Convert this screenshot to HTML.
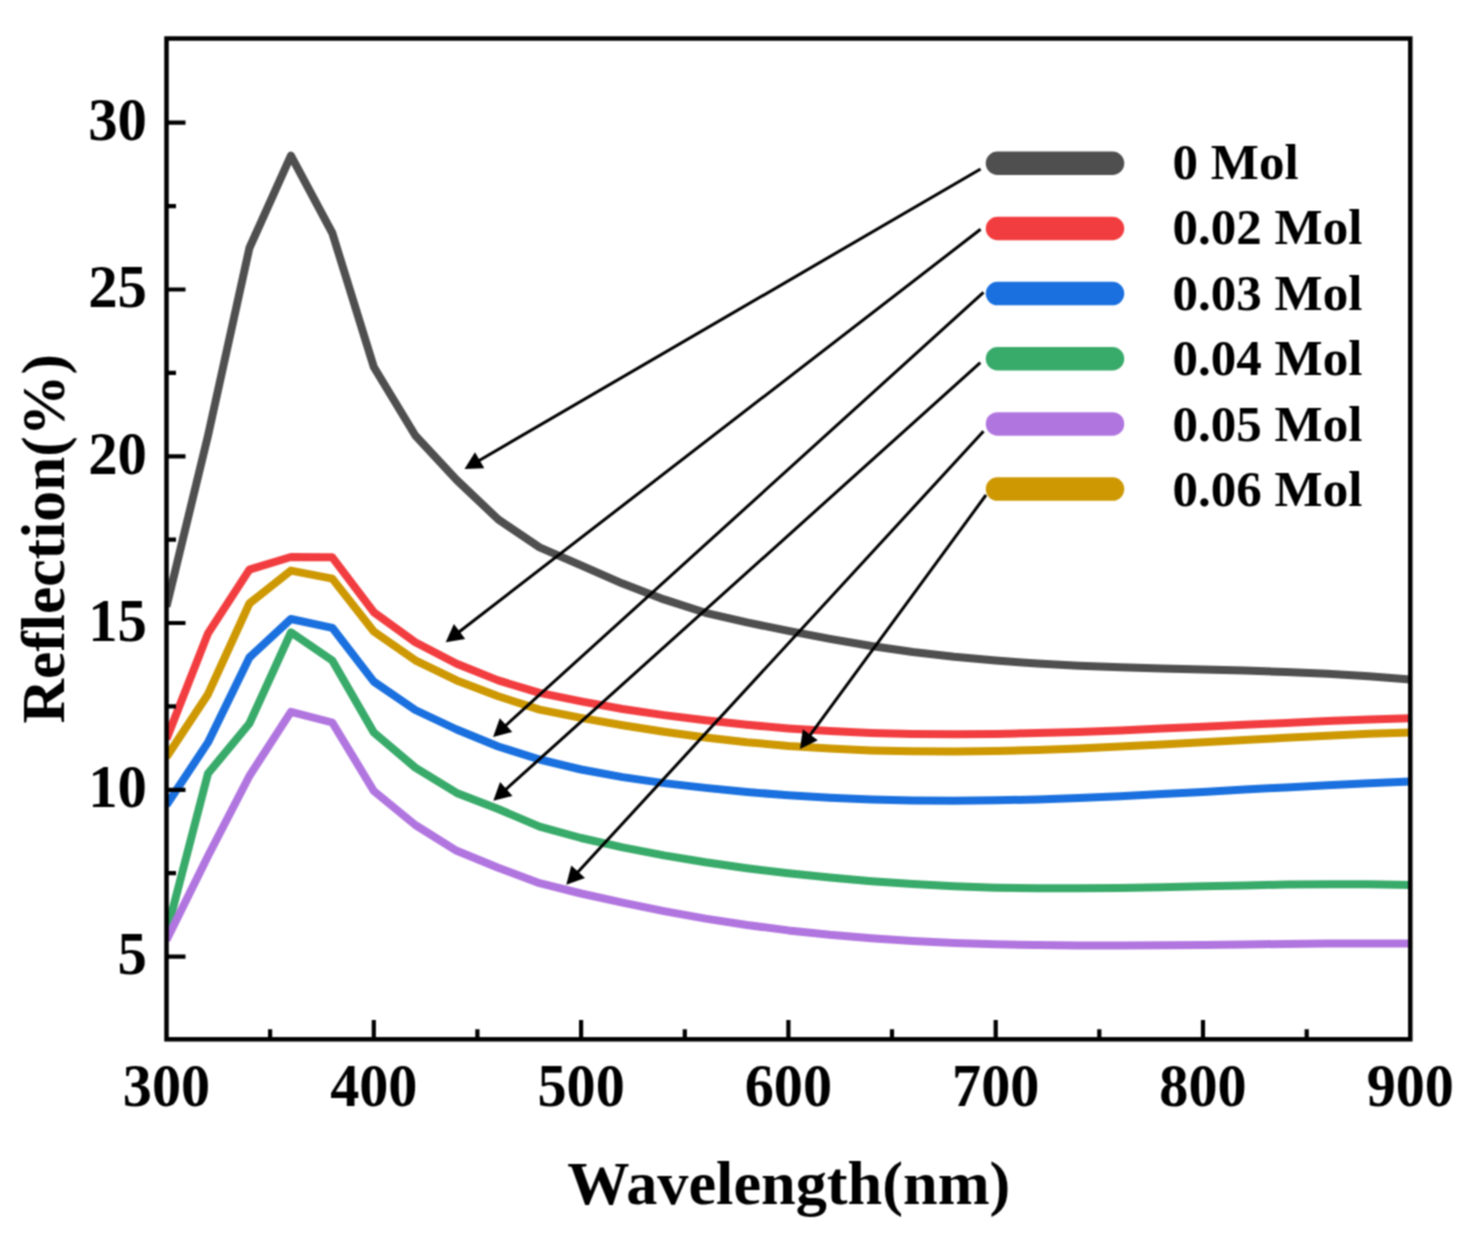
<!DOCTYPE html>
<html><head><meta charset="utf-8"><title>Reflection vs Wavelength</title>
<style>html,body{margin:0;padding:0;background:#fff;overflow:hidden;} svg{display:block;} text{font-family:"Liberation Serif", serif;}</style>
</head><body>
<svg width="1470" height="1240" viewBox="0 0 1470 1240">
<filter id="bl" x="0" y="0" width="1" height="1" color-interpolation-filters="sRGB"><feConvolveMatrix order="3" kernelMatrix="1 2 1 2 4 2 1 2 1" divisor="16" edgeMode="duplicate"/></filter>
<g filter="url(#bl)"><rect x="0" y="0" width="1470" height="1240" fill="#fff"/>
<defs><clipPath id="pc"><rect x="166.5" y="38.5" width="1243.8" height="1000.8"/></clipPath></defs>
<g clip-path="url(#pc)" fill="none" stroke-width="8" stroke-linejoin="round" stroke-linecap="butt">
<path d="M166.5,606.6 L208.0,435.6 L249.4,248.0 L290.9,155.6 L332.3,233.0 L373.8,367.0 L415.3,435.5 L456.7,480.0 L498.2,519.4 L539.6,547.4 L581.1,565.3 L622.6,583.6 L664.0,599.4 L705.5,612.8 L746.9,622.4 L788.4,630.9 L829.9,638.9 L871.3,646.0 L912.8,652.0 L954.2,656.8 L995.7,660.6 L1037.2,663.5 L1078.6,665.7 L1120.1,667.3 L1161.5,668.5 L1203.0,669.6 L1244.5,670.6 L1285.9,672.0 L1327.4,673.7 L1368.8,676.2 L1410.3,679.5" stroke="#4f4f4f"/>
<path d="M166.5,739.0 L208.0,633.4 L249.4,569.6 L290.9,557.0 L332.3,557.3 L373.8,612.2 L415.3,642.2 L456.7,663.7 L498.2,680.4 L539.6,692.9 L581.1,701.4 L622.6,709.0 L664.0,715.1 L705.5,720.3 L746.9,724.8 L788.4,728.4 L829.9,731.1 L871.3,732.9 L912.8,733.9 L954.2,734.2 L995.7,733.9 L1037.2,733.1 L1078.6,731.9 L1120.1,730.4 L1161.5,728.6 L1203.0,726.7 L1244.5,724.8 L1285.9,722.9 L1327.4,721.1 L1368.8,719.6 L1410.3,718.3" stroke="#f23d40"/>
<path d="M166.5,757.0 L208.0,694.2 L249.4,603.5 L290.9,570.6 L332.3,578.6 L373.8,631.5 L415.3,660.3 L456.7,680.4 L498.2,696.3 L539.6,709.6 L581.1,717.8 L622.6,725.2 L664.0,731.8 L705.5,737.5 L746.9,742.2 L788.4,745.9 L829.9,748.6 L871.3,750.4 L912.8,751.3 L954.2,751.5 L995.7,751.0 L1037.2,749.9 L1078.6,748.4 L1120.1,746.6 L1161.5,744.5 L1203.0,742.2 L1244.5,740.0 L1285.9,737.7 L1327.4,735.7 L1368.8,733.8 L1410.3,732.4" stroke="#cd9802"/>
<path d="M166.5,805.0 L208.0,742.4 L249.4,657.5 L290.9,619.0 L332.3,627.8 L373.8,681.6 L415.3,710.0 L456.7,729.5 L498.2,746.5 L539.6,759.5 L581.1,769.5 L622.6,777.1 L664.0,783.1 L705.5,787.9 L746.9,792.0 L788.4,795.3 L829.9,797.8 L871.3,799.6 L912.8,800.5 L954.2,800.8 L995.7,800.3 L1037.2,799.4 L1078.6,797.9 L1120.1,796.2 L1161.5,794.1 L1203.0,791.9 L1244.5,789.6 L1285.9,787.4 L1327.4,785.2 L1368.8,783.3 L1410.3,781.6" stroke="#1a70de"/>
<path d="M166.5,933.0 L208.0,773.5 L249.4,723.5 L290.9,632.3 L332.3,660.5 L373.8,732.5 L415.3,767.6 L456.7,792.9 L498.2,809.0 L539.6,826.6 L581.1,838.0 L622.6,847.4 L664.0,855.4 L705.5,862.3 L746.9,868.2 L788.4,873.3 L829.9,877.6 L871.3,881.2 L912.8,884.1 L954.2,886.3 L995.7,887.7 L1037.2,888.3 L1078.6,888.3 L1120.1,887.9 L1161.5,887.2 L1203.0,886.3 L1244.5,885.4 L1285.9,884.6 L1327.4,884.2 L1368.8,884.3 L1410.3,885.1" stroke="#38aa69"/>
<path d="M166.5,940.0 L208.0,856.0 L249.4,776.0 L290.9,711.8 L332.3,722.5 L373.8,791.0 L415.3,825.0 L456.7,850.8 L498.2,867.8 L539.6,883.2 L581.1,893.5 L622.6,902.7 L664.0,911.1 L705.5,918.6 L746.9,925.0 L788.4,930.4 L829.9,934.8 L871.3,938.2 L912.8,940.9 L954.2,942.9 L995.7,944.3 L1037.2,945.1 L1078.6,945.5 L1120.1,945.5 L1161.5,945.3 L1203.0,944.9 L1244.5,944.4 L1285.9,944.0 L1327.4,943.6 L1368.8,943.4 L1410.3,943.6" stroke="#b175df"/>
</g>
<rect x="166.5" y="38.5" width="1243.8" height="1000.8" fill="none" stroke="#000" stroke-width="4.5"/>
<path d="M166.5,956.6H185.5M166.5,789.8H185.5M166.5,623.0H185.5M166.5,456.3H185.5M166.5,289.5H185.5M166.5,122.7H185.5M166.5,873.2H176.0M166.5,706.4H176.0M166.5,539.6H176.0M166.5,372.9H176.0M166.5,206.1H176.0M373.8,1039.3V1019.9M581.1,1039.3V1019.9M788.4,1039.3V1019.9M995.7,1039.3V1019.9M1203.0,1039.3V1019.9M270.1,1039.3V1029.3M477.4,1039.3V1029.3M684.8,1039.3V1029.3M892.0,1039.3V1029.3M1099.3,1039.3V1029.3M1306.7,1039.3V1029.3" stroke="#000" stroke-width="4.2" fill="none"/>
<g font-family="Liberation Serif" font-weight="bold" font-size="60" fill="#000">
<text transform="translate(147,974.2) scale(0.98,1.03)" text-anchor="end">5</text>
<text transform="translate(147,807.4) scale(0.98,1.03)" text-anchor="end">10</text>
<text transform="translate(147,640.6) scale(0.98,1.03)" text-anchor="end">15</text>
<text transform="translate(147,473.9) scale(0.98,1.03)" text-anchor="end">20</text>
<text transform="translate(147,307.1) scale(0.98,1.03)" text-anchor="end">25</text>
<text transform="translate(147,140.3) scale(0.98,1.03)" text-anchor="end">30</text>
<text transform="translate(166.5,1106) scale(0.97,1.03)" text-anchor="middle">300</text>
<text transform="translate(373.8,1106) scale(0.97,1.03)" text-anchor="middle">400</text>
<text transform="translate(581.1,1106) scale(0.97,1.03)" text-anchor="middle">500</text>
<text transform="translate(788.4,1106) scale(0.97,1.03)" text-anchor="middle">600</text>
<text transform="translate(995.7,1106) scale(0.97,1.03)" text-anchor="middle">700</text>
<text transform="translate(1203.0,1106) scale(0.97,1.03)" text-anchor="middle">800</text>
<text transform="translate(1410.3,1106) scale(0.97,1.03)" text-anchor="middle">900</text>
</g>
<text x="788.8" y="1203.5" text-anchor="middle" font-family="Liberation Serif" font-weight="bold" font-size="62.3">Wavelength(nm)</text>
<text transform="translate(64.2,538.8) rotate(-90)" text-anchor="middle" font-family="Liberation Serif" font-weight="bold" font-size="61.6">Reflection(%)</text>
<line x1="997.5" y1="163.3" x2="1112.5" y2="163.3" stroke="#4f4f4f" stroke-width="23.5" stroke-linecap="round"/>
<text x="1172.5" y="179.1" font-family="Liberation Serif" font-weight="bold" font-size="51">0 Mol</text>
<line x1="997.5" y1="228.5" x2="1112.5" y2="228.5" stroke="#f23d40" stroke-width="23.5" stroke-linecap="round"/>
<text x="1172.5" y="244.4" font-family="Liberation Serif" font-weight="bold" font-size="51">0.02 Mol</text>
<line x1="997.5" y1="293.6" x2="1112.5" y2="293.6" stroke="#1a70de" stroke-width="23.5" stroke-linecap="round"/>
<text x="1172.5" y="309.8" font-family="Liberation Serif" font-weight="bold" font-size="51">0.03 Mol</text>
<line x1="997.5" y1="358.8" x2="1112.5" y2="358.8" stroke="#38aa69" stroke-width="23.5" stroke-linecap="round"/>
<text x="1172.5" y="375.1" font-family="Liberation Serif" font-weight="bold" font-size="51">0.04 Mol</text>
<line x1="997.5" y1="423.9" x2="1112.5" y2="423.9" stroke="#b175df" stroke-width="23.5" stroke-linecap="round"/>
<text x="1172.5" y="440.5" font-family="Liberation Serif" font-weight="bold" font-size="51">0.05 Mol</text>
<line x1="997.5" y1="489.1" x2="1112.5" y2="489.1" stroke="#cd9802" stroke-width="23.5" stroke-linecap="round"/>
<text x="1172.5" y="505.9" font-family="Liberation Serif" font-weight="bold" font-size="51">0.06 Mol</text>
<line x1="980.6" y1="169" x2="477.9" y2="461.2" stroke="#000" stroke-width="3.0"/>
<polygon points="464.5,469 475.0,452.2 484.3,468.2" fill="#000"/>
<line x1="980.6" y1="229.3" x2="458.0" y2="632.7" stroke="#000" stroke-width="3.0"/>
<polygon points="445.7,642.2 453.9,624.1 465.2,638.9" fill="#000"/>
<line x1="983.5" y1="292.4" x2="504.6" y2="726.5" stroke="#000" stroke-width="3.0"/>
<polygon points="493.1,736.9 499.8,718.3 512.3,732.0" fill="#000"/>
<line x1="980.3" y1="362.7" x2="504.8" y2="790.3" stroke="#000" stroke-width="3.0"/>
<polygon points="493.3,800.7 500.1,782.1 512.5,795.9" fill="#000"/>
<line x1="983.5" y1="431.3" x2="576.8" y2="873.3" stroke="#000" stroke-width="3.0"/>
<polygon points="566.3,884.7 571.3,865.5 585.0,878.1" fill="#000"/>
<line x1="986" y1="495" x2="809.2" y2="736.4" stroke="#000" stroke-width="3.0"/>
<polygon points="800,748.9 802.8,729.3 817.8,740.3" fill="#000"/></g>
</svg>
</body></html>
